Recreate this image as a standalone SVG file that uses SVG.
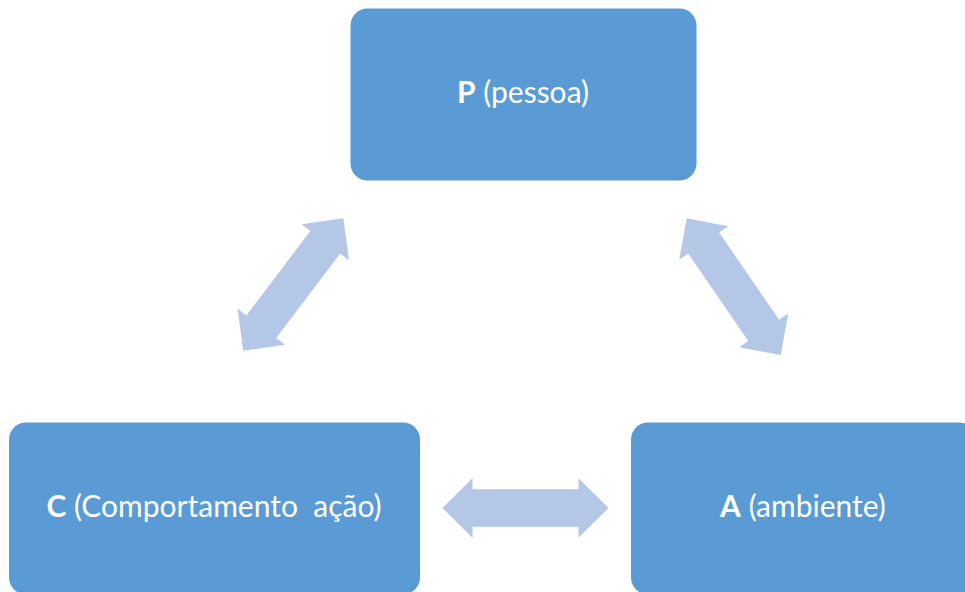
<svg xmlns="http://www.w3.org/2000/svg" width="965" height="592" viewBox="0 0 965 592">
  <style>
    .box { fill: #5B9BD5; }
    .lbl { font-family: Lato, "Open Sans", "Liberation Sans", sans-serif; font-size: 30px; fill: #FFFFFF; text-anchor: middle; white-space: pre; }
    .b { font-weight: bold; }
    .arr { fill: #B4C7E7; }
  </style>
  <defs>
    <path id="dbl" d="M-83,0 L-53,-29.7 L-53,-18.7 L53,-18.7 L53,-29.7 L83,0 L53,29.7 L53,18.7 L-53,18.7 L-53,29.7 Z"/>
  </defs>
  <rect width="965" height="592" fill="#FFFFFF"/>
  <g id="connectors">
    <use href="#dbl" class="arr" transform="translate(293.3,284.5) rotate(-52.9)"/>
    <use href="#dbl" class="arr" transform="translate(733.7,286.7) rotate(55.5)"/>
    <use href="#dbl" class="arr" transform="translate(525.5,508)"/>
  </g>
  <g id="node-P">
    <rect class="box" x="350.5" y="8.5" width="346" height="172" rx="17"/>
    <text class="lbl" x="523" y="103" xml:space="preserve"><tspan class="b">P</tspan> (pessoa)</text>
  </g>
  <g id="node-C">
    <rect class="box" x="9" y="422.5" width="411" height="172" rx="17"/>
    <text class="lbl" x="214" y="517" xml:space="preserve"><tspan class="b">C</tspan> (Comportamento  ação)</text>
  </g>
  <g id="node-A">
    <rect class="box" x="631" y="422.5" width="345" height="172" rx="17"/>
    <text class="lbl" x="803" y="517" xml:space="preserve"><tspan class="b">A</tspan> (ambiente)</text>
  </g>
</svg>
